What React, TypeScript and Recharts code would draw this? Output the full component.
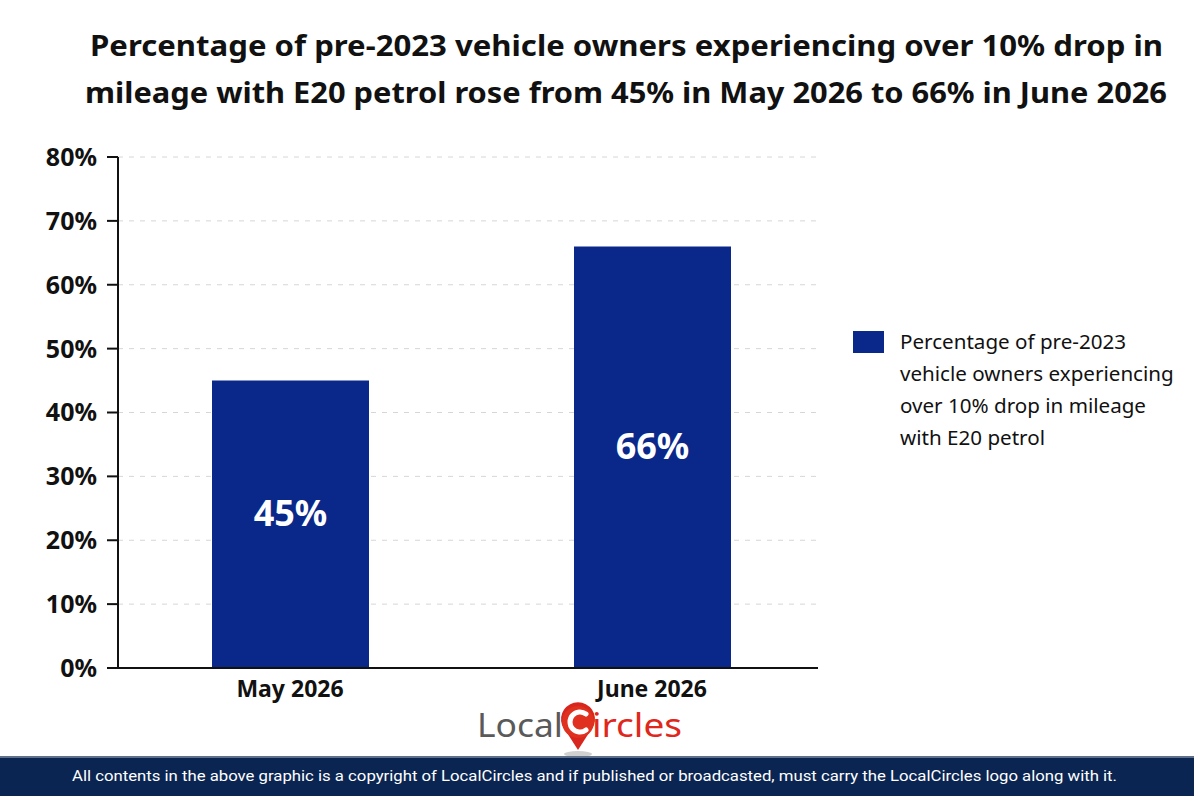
import React from 'react';
import { BarChart, Bar, XAxis, YAxis, CartesianGrid, LabelList } from 'recharts';

const months = ['May 2026', 'June 2026'];
const shares = [45, 66];
const yTicks = [0, 10, 20, 30, 40, 50, 60, 70, 80];

const titleLines = [
    'Percentage of pre-2023 vehicle owners experiencing over 10% drop in',
    'mileage with E20 petrol rose from 45% in May 2026 to 66% in June 2026',
];
const legendLines = [
    'Percentage of pre-2023',
    'vehicle owners experiencing',
    'over 10% drop in mileage',
    'with E20 petrol',
];
const footerText =
    'All contents in the above graphic is a copyright of LocalCircles and if published or broadcasted, must carry the LocalCircles logo along with it.';

const BAR_COLOR = '#0a288a';
const FONT = '"Noto Sans", "DejaVu Sans", sans-serif';

const data = months.map((month, i) => ({ month, share: shares[i] }));

// brand mark under the chart: grey "Local", red pin with a C, red "ircles"
const Logo: React.FC = () => (
    <svg width={230} height={58} style={{ position: 'absolute', left: 470, top: 702 }}>
        <ellipse cx={108} cy={52} rx={14} ry={3} fill="#d0d0d0" />
        <text x={7} y={35} fontFamily={FONT} fontSize={33} fill="#5a5a5a" textLength={86} lengthAdjust="spacingAndGlyphs">
            Local
        </text>
        <path d="M92 23 A17 17 0 1 1 124 23 L108 48 Z" fill="#d7261e" />
        <circle cx={108} cy={20} r={16} fill="#e0301f" />
        <path d="M116 12 A10 10 0 1 0 116 28" fill="none" stroke="#fff" strokeWidth={5} strokeLinecap="round" />
        <text x={122} y={35} fontFamily={FONT} fontSize={33} fill="#e0271c" textLength={90} lengthAdjust="spacingAndGlyphs">
            ircles
        </text>
    </svg>
);

const App: React.FC = () => {
    return (
        <div style={{ position: 'absolute', left: 0, top: 0, width: 1194, height: 796, background: '#fff', fontFamily: FONT }}>
            {/* heading */}
            <svg width={1194} height={120} style={{ position: 'absolute', left: 0, top: 0 }}>
                <text x={90} y={56} fontSize={28} fontWeight={700} fill="#111" textLength={1073} lengthAdjust="spacingAndGlyphs">
                    {titleLines[0]}
                </text>
                <text x={85} y={103} fontSize={28} fontWeight={700} fill="#111" textLength={1082} lengthAdjust="spacingAndGlyphs">
                    {titleLines[1]}
                </text>
            </svg>

            <div style={{ position: 'absolute', left: 0, top: 0 }}>
                <BarChart width={1194} height={796} data={data} margin={{ top: 157, right: 376, bottom: 68, left: 0 }}>
                    <CartesianGrid vertical={false} stroke="#d6d6d6" strokeDasharray="5 6" />
                    <XAxis
                        dataKey="month"
                        height={60}
                        padding={{ left: -9, right: -15 }}
                        tickLine={false}
                        tickSize={0}
                        tickMargin={13}
                        axisLine={{ stroke: '#111', strokeWidth: 2 }}
                        tick={{ fill: '#111', fontSize: 23, fontWeight: 700, fontFamily: FONT }}
                    />
                    <YAxis
                        width={118}
                        domain={[0, 80]}
                        ticks={yTicks}
                        tickSize={11}
                        tickMargin={10}
                        tickFormatter={(v: number) => `${v}%`}
                        axisLine={{ stroke: '#111', strokeWidth: 2 }}
                        tickLine={{ stroke: '#111', strokeWidth: 2 }}
                        tick={{ fill: '#111', fontSize: 25, fontWeight: 700, fontFamily: FONT }}
                    />
                    <Bar dataKey="share" fill={BAR_COLOR} barSize={157} isAnimationActive={false}>
                        <LabelList
                            dataKey="share"
                            position="center"
                            dy={-11}
                            formatter={(v: number) => `${v}%`}
                            fill="#fff"
                            fontSize={36}
                            fontWeight={700}
                            fontFamily={FONT}
                        />
                    </Bar>
                </BarChart>
            </div>

            {/* legend */}
            <div style={{ position: 'absolute', left: 853, top: 331 }}>
                <div style={{ position: 'absolute', left: 0, top: 0, width: 31, height: 22, background: BAR_COLOR }} />
                <div style={{ position: 'absolute', left: 47, top: -6, width: 340, fontSize: 20.6, lineHeight: '32px', color: '#111' }}>
                    {legendLines.map(line => (
                        <div key={line}>{line}</div>
                    ))}
                </div>
            </div>

            <Logo />

            {/* footer band */}
            <svg width={1194} height={40} style={{ position: 'absolute', left: 0, top: 756 }}>
                <rect x={0} y={0} width={1194} height={40} fill="#0a2552" />
                <rect x={0} y={0} width={1194} height={2} fill="#5e6f8c" />
                <text x={72} y={25} fontSize={15} fill="#fff" fontFamily="Roboto, sans-serif" textLength={1045} lengthAdjust="spacingAndGlyphs">
                    {footerText}
                </text>
            </svg>
        </div>
    );
};

export default App;
